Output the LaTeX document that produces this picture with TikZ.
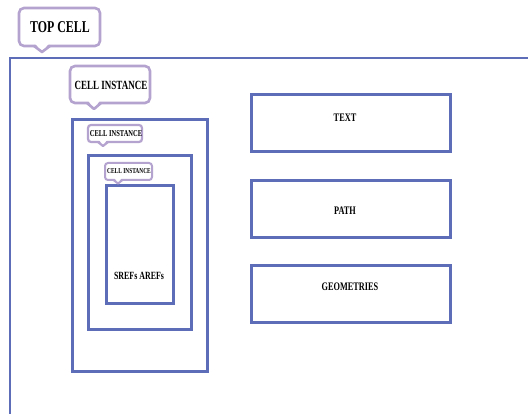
\documentclass[tikz,border=0pt]{standalone}
\usepackage{fontspec}
\setmainfont{Liberation Serif}
\usepackage{graphicx}
\definecolor{cellblue}{HTML}{5E6DB8}
\definecolor{lav}{HTML}{B4A2CF}
\newcommand\cond[1]{\scalebox{0.72}[1]{\bfseries #1}}
\tikzset{
  box/.style={draw=cellblue, line width=3pt, fill=none, outer sep=0pt, anchor=north west},
  callout/.style={draw=lav, line width=2.6pt, rounded corners=5pt, fill=white, outer sep=0pt, anchor=north west, inner sep=0pt},
  lbl/.style={inner sep=0pt, text=black}
}
% #1 = line width (number, pt), #2 = tip x, #3 = bottom y, #4 = half width, #5 = depth
\newcommand\calltail[5]{%
  \fill[white] (#2-#4,#3-#1) -- (#2+#4,#3-#1) -- (#2,#3+#5) -- cycle;
  \draw[lav, line width=#1pt, line join=round, line cap=round] (#2-#4-1,#3) -- (#2,#3+#5) -- (#2+#4+1,#3);
}
\begin{document}
\begin{tikzpicture}[x=1pt,y=-1pt]
\clip (0,0) rectangle (528,414);
\fill[white] (0,0) rectangle (528,414);
% outer top cell
\draw[cellblue, line width=2.8pt] (10,430) -- (10,58) -- (540,58);
% top cell callout
\node[callout, minimum width=81pt, minimum height=38pt] (topbox) at (19,8) {};
\calltail{2.6}{42}{46}{7}{6}
\node[lbl, font=\fontsize{16.5}{18}\selectfont] (topcell) at (60,27) {\cond{TOP CELL}};
% cell instance 1
\node[box, minimum width=135pt, minimum height=252pt] (inst1) at (72,120) {};
\node[callout, minimum width=80pt, minimum height=37pt] (cbox1) at (70,66) {};
\calltail{2.6}{94}{103}{6}{6}
\node[lbl, font=\fontsize{12.5}{14}\selectfont] (c1) at (111,85) {\cond{CELL INSTANCE}};
% cell instance 2
\node[box, minimum width=103pt, minimum height=174pt] (inst2) at (88,156) {};
\node[callout, line width=2.2pt, rounded corners=3pt, minimum width=54pt, minimum height=17pt] (cbox2) at (88,125) {};
\calltail{2.2}{103}{142}{4}{4}
\node[lbl, font=\fontsize{9}{10}\selectfont] (c2) at (116,134) {\cond{CELL INSTANCE}};
% cell instance 3
\node[box, minimum width=67pt, minimum height=118pt] (inst3) at (106,186) {};
\node[callout, line width=2pt, rounded corners=3pt, minimum width=47pt, minimum height=17pt] (cbox3) at (105,163) {};
\calltail{2}{118}{180}{3.5}{3.5}
\node[lbl, font=\fontsize{7.5}{8}\selectfont] (c3) at (129,171.5) {\cond{CELL INSTANCE}};
\node[lbl, font=\fontsize{11}{12}\selectfont] (refs) at (139,276) {\cond{SREFs AREFs}};
% right boxes
\node[box, minimum width=199pt, minimum height=57pt] (textbox) at (251,95) {};
\node[lbl, font=\fontsize{11.5}{12}\selectfont] (textlbl) at (345,118) {\cond{TEXT}};
\node[box, minimum width=199pt, minimum height=57pt] (pathbox) at (251,181) {};
\node[lbl, font=\fontsize{11.5}{12}\selectfont] (pathlbl) at (345,211) {\cond{PATH}};
\node[box, minimum width=199pt, minimum height=57pt] (geombox) at (251,266) {};
\node[lbl, font=\fontsize{11.5}{12}\selectfont] (geomlbl) at (350,287) {\cond{GEOMETRIES}};
\end{tikzpicture}
\end{document}
